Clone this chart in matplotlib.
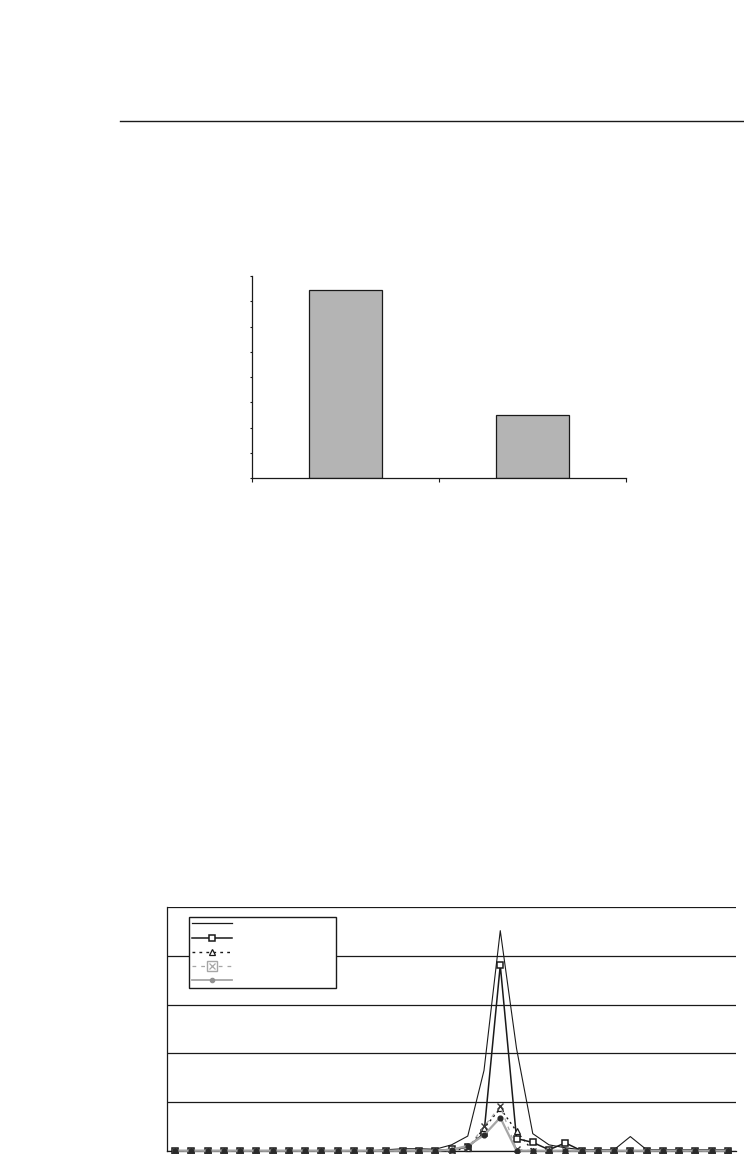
import matplotlib
matplotlib.use("Agg")
import matplotlib.pyplot as plt
from matplotlib.lines import Line2D
from matplotlib.legend_handler import HandlerTuple
import numpy as np

# ---------------- data ----------------
bar_categories = ["", ""]
bar_values = [7.45, 2.50]

n_points = 35
s1 = [0.0] * 13 + [0.02, 0.04, 0.04, 0.03, 0.12, 0.30, 1.65, 4.52, 2.10, 0.35,
                   0.12, 0.06, 0.02, 0.02, 0.02, 0.29, 0.02, 0.02, 0.02, 0.02,
                   0.02, 0.02]
s2 = [0.0] * 17 + [0.03, 0.07, 0.36, 3.81, 0.25, 0.17, 0.02, 0.16] + [0.0] * 10
s3 = [0.0] * 18 + [0.05, 0.46, 0.87, 0.40] + [0.0] * 13
s4 = [0.0] * 18 + [0.05, 0.50, 0.91, 0.03] + [0.0] * 13
s5 = [0.0] * 17 + [0.02, 0.10, 0.32, 0.68, 0.0] + [0.0] * 13

# ---------------- figure ----------------
fig = plt.figure(figsize=(7.44, 11.54), dpi=100)
fig.patch.set_facecolor("white")

# horizontal rule across the page
fig.add_artist(Line2D([120 / 744, 1.0], [1 - 121 / 1154, 1 - 121 / 1154],
                      transform=fig.transFigure, color="#1a1a1a", lw=1.0))

# ---------------- bar chart ----------------
axb = fig.add_axes([252.3 / 744, 1 - 478.3 / 1154, (626 - 252.3) / 744, (478.3 - 276) / 1154])
xpos = np.arange(len(bar_values)) + 0.5
axb.bar(xpos, bar_values, width=0.39, color="#b4b4b4", edgecolor="#1a1a1a", linewidth=0.9)
axb.set_xlim(0, len(bar_values))
axb.set_ylim(0, 8)
axb.set_yticks(np.arange(0, 9, 1))
axb.set_xticks(np.arange(0, len(bar_values) + 1, 1))
axb.set_xticklabels([])
axb.set_yticklabels([])
axb.tick_params(axis="y", direction="out", length=1.8, width=0.8, color="#1a1a1a")
axb.tick_params(axis="x", direction="out", length=2.6, width=0.8, color="#1a1a1a")
for sp in ["top", "right"]:
    axb.spines[sp].set_visible(False)
for sp in ["left", "bottom"]:
    axb.spines[sp].set_linewidth(0.9)
    axb.spines[sp].set_color("#1a1a1a")

# ---------------- line chart ----------------
axl = fig.add_axes([167 / 744, 1 - 1150.7 / 1154, (736 - 167) / 744, (1150.7 - 907.3) / 1154])
x = np.arange(n_points)
axl.set_xlim(-0.5, n_points - 0.5)
axl.set_ylim(0, 5)
axl.set_yticks(np.arange(0, 6, 1))
axl.yaxis.grid(True, color="#1a1a1a", lw=0.9)
axl.set_axisbelow(True)
axl.set_xticks(np.arange(-0.5, n_points, 1))
axl.set_xticklabels([])
axl.set_yticklabels([])
axl.tick_params(axis="both", length=0)
for sp in ["top", "right"]:
    axl.spines[sp].set_visible(False)
axl.spines["left"].set_linewidth(0.9)
axl.spines["left"].set_color("#1a1a1a")
axl.spines["bottom"].set_linewidth(0.9)
axl.spines["bottom"].set_color("#1a1a1a")

gray = "#a6a6a6"
axl.plot(x, s1, color="#1a1a1a", lw=0.8, clip_on=False, zorder=3)
axl.plot(x, s2, color="#1a1a1a", lw=1.1, marker="s", ms=4.2, mfc="white",
         mec="#1a1a1a", mew=1.1, clip_on=False, zorder=3)
axl.plot(x, s3, color="#1a1a1a", lw=1.0, ls=(0, (1.5, 2.5)), marker="^", ms=4,
         mfc="white", mec="#1a1a1a", mew=0.9, clip_on=False, zorder=3)
axl.plot(x, s4, color=gray, lw=0.9, ls=(0, (3, 4)), marker="x", ms=4,
         mec="#3a3a3a", mew=1.0, clip_on=False, zorder=3)
axl.plot(x, s5, color=gray, lw=1.6, marker="o", ms=3.4, mfc="#2a2a2a",
         mec="#2a2a2a", clip_on=False, zorder=3)

# legend (series names not shown in the source)
h1 = Line2D([], [], color="#1a1a1a", lw=0.9)
h2 = Line2D([], [], color="#1a1a1a", lw=1.1, marker="s", ms=4.2, mfc="white",
            mec="#1a1a1a", mew=1.1)
h3 = Line2D([], [], color="#1a1a1a", lw=1.0, ls=(0, (2, 3)), marker="^", ms=4,
            mfc="white", mec="#1a1a1a", mew=0.9)
h4a = Line2D([], [], color=gray, lw=0.9, ls=(0, (3, 4)), marker="s", ms=7,
             mfc="white", mec=gray, mew=1.0)
h4b = Line2D([], [], color=gray, lw=0, marker="x", ms=4, mec=gray, mew=0.9)
h5 = Line2D([], [], color=gray, lw=1.3, marker="o", ms=3, mfc="#909090", mec="#909090")

leg = axl.legend([h1, h2, h3, (h4a, h4b), h5], ["", "", "", "", ""],
                 handler_map={tuple: HandlerTuple(ndivide=1)},
                 loc="upper left", bbox_to_anchor=(0.0392, 0.6672, 0.2573, 0.2917),
                 mode="expand", borderaxespad=0, fontsize=6, handlelength=4.8,
                 handleheight=1.33, labelspacing=0.58, borderpad=0.28,
                 handletextpad=0.5, numpoints=1, fancybox=False, framealpha=1)
leg.get_frame().set_edgecolor("#1a1a1a")
leg.get_frame().set_linewidth(1.0)
leg.set_zorder(5)

fig.savefig("out.png", dpi=100, facecolor="white")
